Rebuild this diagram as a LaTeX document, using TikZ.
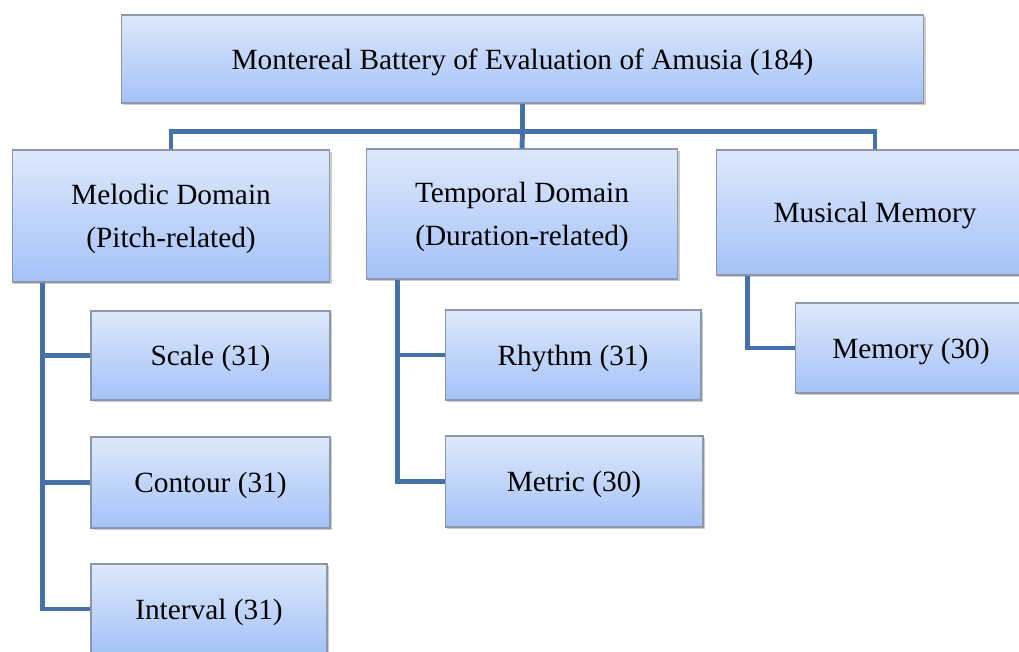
\documentclass[tikz,border=0pt]{standalone}
\usepackage{fontspec}
\setmainfont{Liberation Serif}
\usetikzlibrary{shadows}
\definecolor{boxtop}{HTML}{DEE8FB}
\definecolor{boxbot}{HTML}{A4C2F8}
\definecolor{boxline}{HTML}{8C97A8}
\definecolor{linkblue}{HTML}{4671A9}
\tikzset{
  box/.style={draw=boxline,line width=0.6pt,top color=boxtop,bottom color=boxbot,
    align=center,font=\fontsize{16.7}{24.5}\selectfont,text depth=0pt,
    drop shadow={shadow xshift=1.3pt,shadow yshift=-1.3pt,opacity=0.4}},
  link/.style={draw=linkblue,line width=2.8pt}
}
\begin{document}
\begin{tikzpicture}[x=0.02cm,y=-0.02cm]
\useasboundingbox (0,0) rectangle (1019,652);
\node[box,minimum width=16.06cm,minimum height=1.76cm](top) at (522.5,59) {Montereal Battery of Evaluation of Amusia (184)};
\node[box,minimum width=6.36cm,minimum height=2.64cm](melodic) at (171,216) {Melodic Domain\\(Pitch-related)};
\node[box,minimum width=6.24cm,minimum height=2.6cm](temporal) at (522,214) {Temporal Domain\\(Duration-related)};
\node[box,minimum width=6.36cm,minimum height=2.5cm](musmem) at (875,212.5) {Musical Memory};
\node[box,minimum width=4.78cm,minimum height=1.78cm](scale) at (210.5,355.5) {Scale (31)};
\node[box,minimum width=4.78cm,minimum height=1.82cm](contour) at (210.5,482.5) {Contour (31)};
\node[box,minimum width=4.72cm,minimum height=1.8cm](interval) at (209,609) {Interval (31)};
\node[box,minimum width=5.12cm,minimum height=1.8cm](rhythm) at (573,355) {Rhythm (31)};
\node[box,minimum width=5.16cm,minimum height=1.82cm](metric) at (574,481.5) {Metric (30)};
\node[box,minimum width=4.62cm,minimum height=1.8cm](memory) at (911,348) {Memory (30)};
\draw[link](top.south)--++(0,28)coordinate(hub);
\draw[link](hub)-|(melodic.north);
\draw[link](hub)--(temporal.north);
\draw[link](hub)-|(musmem.north);
\draw[link]([xshift=0.62cm]melodic.south west)|-(scale.west);
\draw[link]([xshift=0.62cm]melodic.south west)|-(contour.west);
\draw[link]([xshift=0.62cm]melodic.south west)|-(interval.west);
\draw[link]([xshift=0.64cm]temporal.south west)|-(rhythm.west);
\draw[link]([xshift=0.64cm]temporal.south west)|-(metric.west);
\draw[link]([xshift=0.64cm]musmem.south west)|-(memory.west);
\end{tikzpicture}
\end{document}
